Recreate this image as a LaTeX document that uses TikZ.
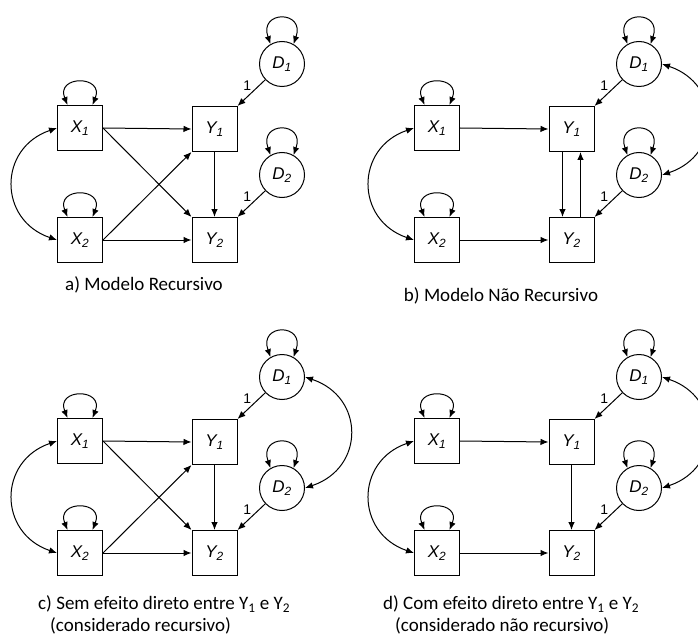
\documentclass[tikz,border=0pt]{standalone}
\usepackage{fontspec}
\setmainfont{Carlito}
\newfontfamily\lblfont{Liberation Sans}
\usetikzlibrary{arrows.meta}
\tikzset{
  box/.style={draw, line width=1pt, minimum width=45pt, minimum height=45pt, inner sep=0pt,
    font=\lblfont\itshape\fontsize{17}{17}\selectfont},
  circ/.style={draw, circle, line width=1pt, minimum size=45pt, inner sep=0pt,
    font=\lblfont\itshape\fontsize{17}{17}\selectfont},
  arr/.style={-{Latex[length=8pt,width=6.5pt]}, line width=1pt},
  darr/.style={{Latex[length=8pt,width=6.5pt]}-{Latex[length=8pt,width=6.5pt]}, line width=1pt},
  one/.style={font=\lblfont\fontsize{14}{14}\selectfont, inner sep=1pt},
  captext/.style={font=\fontsize{19}{22}\selectfont, inner sep=0pt},
}
\newcommand\mkpanel[1]{%
  \node[box] (#1X1) at (80,128) {X\textsubscript{1}};
  \node[box] (#1X2) at (80,240) {X\textsubscript{2}};
  \node[box] (#1Y1) at (214.5,129) {Y\textsubscript{1}};
  \node[box] (#1Y2) at (214.5,240) {Y\textsubscript{2}};
  \node[circ] (#1D1) at (282,64) {D\textsubscript{1}};
  \node[circ] (#1D2) at (282,175) {D\textsubscript{2}};
  \foreach \n in {X1,X2}{
    \draw[darr] ([xshift=-12.5pt]#1\n.north) .. controls +(-12,-30) and +(12,-30) .. ([xshift=12.5pt]#1\n.north);
  }
  \foreach \n in {D1,D2}{
    \draw[darr] (#1\n.120) .. controls +(-12,-34) and +(12,-34) .. (#1\n.60);
  }
  \draw[darr] (#1X1.west) .. controls +(-59,20) and +(-59,-20) .. (#1X2.west);
  \draw[arr] (#1X1.east) -- (#1Y1.west);
  \draw[arr] (#1X2.east) -- (#1Y2.west);
  \draw[arr] (#1D1) -- node[one, pos=0.45, above left] {1} (#1Y1.north east);
  \draw[arr] (#1D2) -- node[one, pos=0.45, above left] {1} (#1Y2.north east);
}
\begin{document}
\begin{tikzpicture}[x=1pt, y=-1pt]
\useasboundingbox (0,0) rectangle (698,639);
\clip (0,0) rectangle (698,639);
% panel a
\begin{scope}
  \mkpanel{a}
  \draw[arr] (aX1.east) -- (aY2.north west);
  \draw[arr] (aX2.east) -- (aY1.south west);
  \draw[arr] (aY1) -- (aY2);
  \node[captext] (capa) at (144,285) {a) Modelo Recursivo};
\end{scope}
% panel b
\begin{scope}[shift={(357,0)}]
  \mkpanel{b}
  \draw[arr] ([xshift=-9pt]bY1.south) -- ([xshift=-9pt]bY2.north);
  \draw[arr] ([xshift=9pt]bY2.north) -- ([xshift=9pt]bY1.south);
  \draw[darr] (bD1.east) .. controls +(60,20) and +(60,-20) .. (bD2.east);
  \node[captext] (capb) at (144,296) {b) Modelo Não Recursivo};
\end{scope}
% panel c
\begin{scope}[shift={(0,313)}]
  \mkpanel{c}
  \draw[arr] (cX1.east) -- (cY2.north west);
  \draw[arr] (cX2.east) -- (cY1.south west);
  \draw[arr] (cY1) -- (cY2);
  \draw[darr] (cD1.east) .. controls +(60,20) and +(60,-20) .. (cD2.east);
\end{scope}
\node[captext, anchor=west] (capc1) at (38,604) {c) Sem efeito direto entre Y\textsubscript{1} e Y\textsubscript{2}};
\node[captext, anchor=west] (capc2) at (50,626) {(considerado recursivo)};
% panel d
\begin{scope}[shift={(357,313)}]
  \mkpanel{d}
  \draw[arr] (dY1) -- (dY2);
  \draw[darr] (dD1.east) .. controls +(60,20) and +(60,-20) .. (dD2.east);
\end{scope}
\node[captext, anchor=west] (capd1) at (383,604) {d) Com efeito direto entre Y\textsubscript{1} e Y\textsubscript{2}};
\node[captext, anchor=west] (capd2) at (395,626) {(considerado não recursivo)};
\end{tikzpicture}
\end{document}
